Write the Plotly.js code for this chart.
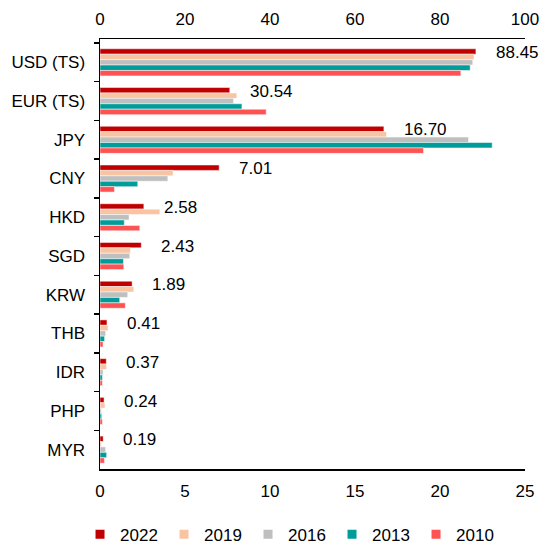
<!DOCTYPE html>
<html>
<head>
<meta charset="utf-8">
<script src="https://cdn.plot.ly/plotly-3.0.1.min.js"></script>
<style>html,body{margin:0;padding:0;background:#fff;}#chart{width:540px;height:545px;}</style>
</head>
<body>
<div id="chart"></div>
<script>
// Categories (top to bottom); "(TS)" categories are read on the top axis (0-100)
const categories = ['USD (TS)', 'EUR (TS)', 'JPY', 'CNY', 'HKD', 'SGD', 'KRW', 'THB', 'IDR', 'PHP', 'MYR'];
const topAxisCategories = ['USD (TS)', 'EUR (TS)'];
const years = ['2022', '2019', '2016', '2013', '2010'];
const v2022 = [88.45, 30.54, 16.70, 7.01, 2.58, 2.43, 1.89, 0.41, 0.37, 0.24, 0.19];
const v2019 = [88.0, 32.2, 16.85, 4.30, 3.52, 1.79, 1.99, 0.47, 0.39, 0.29, 0.08];
const v2016 = [87.7, 31.4, 21.68, 3.99, 1.71, 1.75, 1.63, 0.33, 0.18, 0.08, 0.33];
const v2013 = [87.1, 33.4, 23.07, 2.22, 1.43, 1.38, 1.16, 0.27, 0.14, 0.10, 0.39];
const v2010 = [84.9, 39.1, 19.03, 0.85, 2.34, 1.40, 1.49, 0.18, 0.14, 0.14, 0.26];
const labels2022 = ['88.45', '30.54', '16.70', '7.01', '2.58', '2.43', '1.89', '0.41', '0.37', '0.24', '0.19'];
const bottomTicks = [0, 5, 10, 15, 20, 25];
const topTicks = [0, 20, 40, 60, 80, 100];

const series = [v2022, v2019, v2016, v2013, v2010];
const colors = ['#C00000', '#F8C4A2', '#BFBFBF', '#009C9A', '#FF5252'];
const FONT = 'Arial, "Liberation Sans", sans-serif';
const bargap = 0.3;

const traces = [];
years.forEach((yr, i) => {
  const vals = series[i];
  const botY = [], botX = [], topY = [], topX = [];
  categories.forEach((c, k) => {
    if (topAxisCategories.includes(c)) { topY.push(c); topX.push(vals[k]); }
    else { botY.push(c); botX.push(vals[k]); }
  });
  traces.push({
    type: 'bar', orientation: 'h', name: yr, legendgroup: yr, showlegend: false,
    x: botX, y: botY, xaxis: 'x', yaxis: 'y',
    marker: {color: colors[i], line: {color: '#ffffff', width: 0.5}},
    hoverinfo: 'x+y'
  });
  traces.push({
    type: 'bar', orientation: 'h', name: yr, legendgroup: yr, showlegend: false,
    x: topX, y: topY, xaxis: 'x2', yaxis: 'y',
    marker: {color: colors[i], line: {color: '#ffffff', width: 0.5}},
    hoverinfo: 'x+y'
  });
});
// legend entries with small square keys
years.forEach((yr, i) => {
  traces.push({
    type: 'scatter', mode: 'markers', name: yr, legendgroup: yr, showlegend: true,
    x: [null], y: [null], xaxis: 'x', yaxis: 'y',
    marker: {symbol: 'square', size: 9, color: colors[i]},
    hoverinfo: 'skip'
  });
});

// value labels next to the 2022 bar
const groupW = 1 - bargap;
const firstOffset = -groupW / 2 + groupW / years.length / 2;
const annotations = categories.map((c, k) => ({
  x: v2022[k],
  y: k + firstOffset,
  xref: topAxisCategories.includes(c) ? 'x2' : 'x',
  yref: 'y',
  text: labels2022[k],
  showarrow: false,
  xanchor: 'left',
  yanchor: 'middle',
  xshift: 18,
  yshift: -1,
  font: {family: FONT, size: 17, color: '#000'}
}));

const layout = {
  width: 540, height: 545,
  margin: {l: 100, r: 15, t: 39, b: 76, autoexpand: false},
  paper_bgcolor: '#fff', plot_bgcolor: '#fff',
  font: {family: FONT, size: 17, color: '#000'},
  barmode: 'group', bargap: bargap, bargroupgap: 0,
  showlegend: true,
  legend: {
    orientation: 'h', x: -0.047, xanchor: 'left', y: -0.153, yanchor: 'middle',
    font: {family: FONT, size: 17, color: '#000'},
    traceorder: 'normal', itemwidth: 30, entrywidth: 39
  },
  xaxis: {
    range: [0, 25], tickvals: bottomTicks, ticktext: bottomTicks.map(String),
    showgrid: false, zeroline: false, showline: true, linecolor: '#000', linewidth: 1.5,
    ticks: '', side: 'bottom', anchor: 'y', fixedrange: true, ticklabelstandoff: 6
  },
  xaxis2: {
    range: [0, 100], tickvals: topTicks, ticktext: topTicks.map(String),
    overlaying: 'x', side: 'top', anchor: 'y',
    showgrid: false, zeroline: false, showline: true, linecolor: '#000', linewidth: 1.5,
    ticks: '', fixedrange: true, ticklabelstandoff: 6
  },
  yaxis: {
    type: 'category', categoryorder: 'array', categoryarray: categories,
    autorange: 'reversed', showgrid: false, zeroline: false,
    showline: true, linecolor: '#000', linewidth: 1.5,
    ticks: 'outside', tickson: 'boundaries', ticklen: 5, tickwidth: 1.5, tickcolor: '#000',
    ticklabelstandoff: 10, fixedrange: true
  },
  annotations: annotations
};

Plotly.newPlot('chart', traces, layout, {displayModeBar: false, staticPlot: true});
</script>
</body>
</html>
